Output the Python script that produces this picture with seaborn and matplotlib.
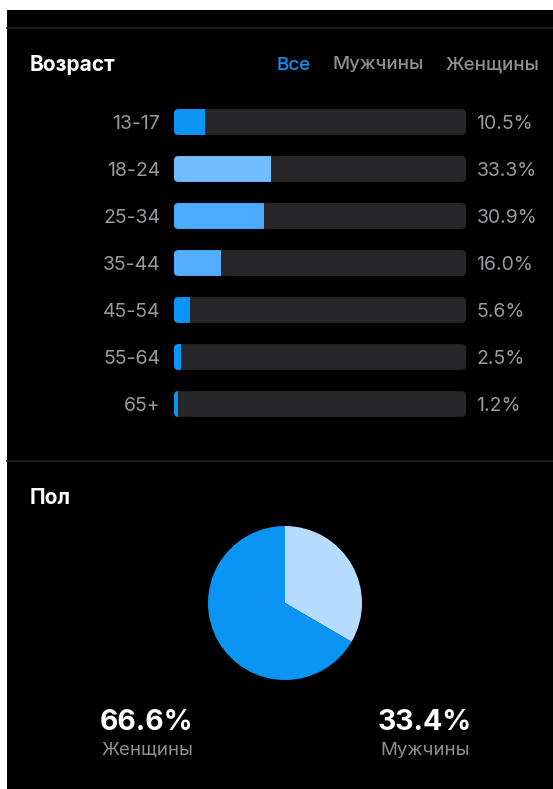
import numpy as np
import pandas as pd
import matplotlib
matplotlib.use("Agg")
import matplotlib.pyplot as plt
import seaborn as sns
from matplotlib.patches import FancyBboxPatch, Rectangle
from matplotlib.lines import Line2D

# data
ages = ["13-17", "18-24", "25-34", "35-44", "45-54", "55-64", "65+"]
age_share = [10.5, 33.3, 30.9, 16.0, 5.6, 2.5, 1.2]
age_colors = ["#0a95f7", "#72bdff", "#4aabff", "#52afff", "#0a95f7", "#0a95f7", "#0a95f7"]
tabs = ["Все", "Мужчины", "Женщины"]
gender_labels = ["Мужчины", "Женщины"]
gender_share = [33.4, 66.6]
gender_colors = ["#b5dcff", "#0a95f4"]

sns.set_theme(style="dark")
plt.rcParams["font.family"] = ["Inter", "DejaVu Sans"]

W, H = 553, 789
fig = plt.figure(figsize=(W / 100, H / 100), dpi=100, facecolor="white")

# black panel + separators
fig.patches.append(Rectangle((7 / W, 0), 1 - 7 / W, 1 - 10 / H, transform=fig.transFigure,
                             facecolor="black", edgecolor="none", zorder=-2))
for yy in (28, 461):
    fig.lines.append(Line2D([7 / W, 1], [1 - yy / H] * 2, transform=fig.transFigure,
                            color="#1c1c1e", lw=1.5, zorder=-1))

# headers
fig.text(30 / W, 1 - 63 / H, "Возраст", color="white", fontsize=15, fontweight="bold",
         va="center_baseline")
tab_x = [276, 332, 446]
tab_c = ["#0a95f7", "#8e8e93", "#8e8e93"]
for t, x, c in zip(tabs, tab_x, tab_c):
    fig.text(x / W, 1 - 63 / H, t, color=c, fontsize=13.5, fontweight="medium", va="center_baseline")
fig.text(30 / W, 1 - 496 / H, "Пол", color="white", fontsize=15, fontweight="bold",
         va="center_baseline")

# age bars
df = pd.DataFrame({"age": ages, "share": age_share, "full": 100.0})
ax = fig.add_axes([174 / W, 1 - 427.5 / H, 292 / W, 329 / H])
ax.set_facecolor("none")
sns.barplot(data=df, x="full", y="age", color="#2c2c2e", width=0.55, ax=ax, saturation=1)
n = len(ages)
tracks = []
for p in list(ax.patches)[:n]:
    x0, y0, w, h = p.get_x(), p.get_y(), p.get_width(), p.get_height()
    p.remove()
    rp = FancyBboxPatch((x0, y0), w, h, boxstyle="round,pad=0,rounding_size=1.5",
                        mutation_aspect=0.062, facecolor="#272729", edgecolor="none")
    ax.add_patch(rp)
    tracks.append(rp)
sns.barplot(data=df, x="share", y="age", hue="age", palette=age_colors, width=0.55,
            ax=ax, legend=False, saturation=1, linewidth=0)
fills = [p for p in ax.patches if not isinstance(p, FancyBboxPatch)]
for p, tr in zip(fills, tracks):
    p.set_clip_path(tr)
    p.set_edgecolor("none")
    p.set_zorder(3)

ax.set_xlim(0, 100)
ax.set_ylim(n - 0.5, -0.5)
ax.set_xlabel("")
ax.set_ylabel("")
ax.set_xticks([])
ax.tick_params(axis="y", length=0, pad=10, labelsize=14, labelcolor="#98989d")
ax.grid(False)
for s in ax.spines.values():
    s.set_visible(False)
for i, v in enumerate(age_share):
    ax.text(103.6, i, f"{v:.1f}%", color="#98989d", fontsize=14, va="center_baseline", ha="left")

# gender pie
pax = fig.add_axes([208 / W, 1 - 680 / H, 154 / W, 154 / H])
pax.set_facecolor("none")
pax.pie(gender_share, colors=gender_colors, startangle=90, counterclock=False,
        wedgeprops=dict(linewidth=0, edgecolor="none"))
pax.set_xlim(-1, 1)
pax.set_ylim(-1, 1)

# gender summary
summary_x = [147, 425]
for lab, v, x in zip(gender_labels[::-1], gender_share[::-1], summary_x):
    fig.text(x / W, 1 - 719 / H, f"{v:.1f}%", color="white", fontsize=20.5,
             fontweight="bold", ha="center", va="center_baseline")
    fig.text(x / W, 1 - 748 / H, lab, color="#8e8e93", fontsize=13.5, ha="center",
             va="center_baseline")

fig.savefig("out.png", dpi=100, facecolor=fig.get_facecolor())
